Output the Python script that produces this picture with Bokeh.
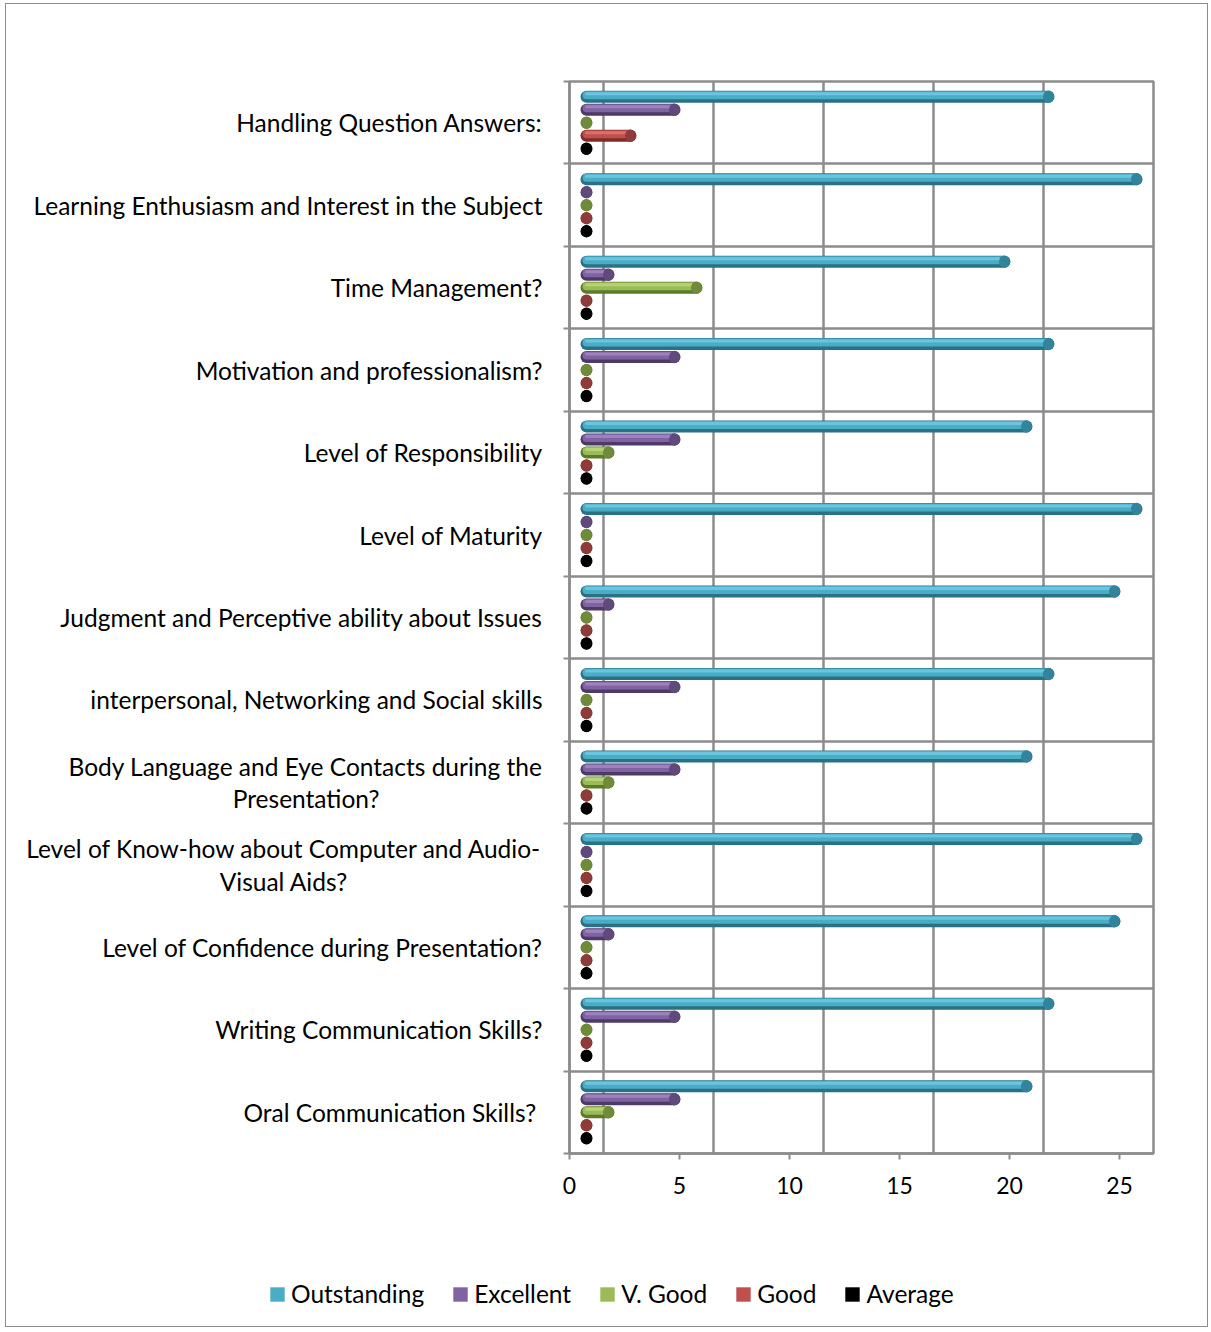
from bokeh.plotting import figure
from bokeh.layouts import column
from bokeh.models import Range1d, FixedTicker, Legend, LegendItem, ColumnDataSource
from bokeh.embed import file_html
from bokeh.resources import INLINE

NB = "\u00a0"
categories = [
    "Handling Question Answers:",
    "Learning Enthusiasm and Interest in the Subject",
    "Time Management?",
    "Motivation and professionalism?",
    "Level of Responsibility",
    "Level of Maturity",
    "Judgment and Perceptive ability about Issues",
    "interpersonal, Networking and Social skills",
    "Body Language and Eye Contacts during the\nPresentation?" + NB * 26,
    "Level of Know-how about Computer and Audio-\nVisual Aids?" + NB * 31,
    "Level of Confidence during Presentation?",
    "Writing Communication Skills?",
    "Oral Communication Skills?" + NB,
]
series_names = ["Outstanding", "Excellent", "V. Good", "Good", "Average"]
outstanding = [21, 25, 19, 21, 20, 25, 24, 21, 20, 25, 24, 21, 20]
excellent = [4, 0, 1, 4, 4, 0, 1, 4, 4, 0, 1, 4, 4]
v_good = [0, 0, 5, 0, 1, 0, 0, 0, 1, 0, 0, 0, 1]
good = [2, 0, 0, 0, 0, 0, 0, 0, 0, 0, 0, 0, 0]
average = [0, 0, 0, 0, 0, 0, 0, 0, 0, 0, 0, 0, 0]
x_ticks = [0, 5, 10, 15, 20, 25]

series_values = [outstanding, excellent, v_good, good, average]
# (dark, main, light, cap)
palette = [
    ("#2b7184", "#4bacc6", "#6ac6de", "#31849b"),
    ("#4e3a66", "#8064a2", "#9d83be", "#5f4a7b"),
    ("#5b7a2a", "#9bbb59", "#b6d474", "#6f8b3a"),
    ("#7e2c2a", "#c0504d", "#d8716e", "#8f3b39"),
    ("#000000", "#000000", "#1a1a1a", "#000000"),
]
legend_colors = ["#4bacc6", "#8064a2", "#9bbb59", "#c0504d", "#000000"]

n = len(categories)
FRAME_W, FRAME_H = 584, 1072
PX_X = 1.0 / 22.0            # data units per pixel (x)
PX_Y = n / FRAME_H           # data units per pixel (y)
DEPTH = 34 * PX_X            # 3-D depth offset of the back wall
HALF = DEPTH / 2             # bars sit at mid-depth
PITCH = 13 * PX_Y
GRID = "#8c8c8c"
FONT = "Lato"
FS = "24.5px"

W = 1201
p = figure(width=W, height=1209, output_backend="svg", toolbar_location=None,
           x_range=Range1d(0, x_ticks[-1] + DEPTH), y_range=Range1d(n, 0),
           min_border_left=563, min_border_right=W - 563 - FRAME_W, min_border_top=77,
           min_border_bottom=1209 - 77 - FRAME_H)
p.background_fill_color = "white"
p.border_fill_color = "white"
p.outline_line_color = GRID
p.outline_line_width = 2.5

# grids on the back wall
p.xgrid.ticker = FixedTicker(ticks=[t + DEPTH for t in x_ticks])
p.xgrid.grid_line_color = GRID
p.xgrid.grid_line_width = 2.5
p.ygrid.ticker = FixedTicker(ticks=list(range(1, n)))
p.ygrid.grid_line_color = GRID
p.ygrid.grid_line_width = 2.5

# x axis
p.xaxis.ticker = FixedTicker(ticks=x_ticks)
p.xaxis.axis_line_color = GRID
p.xaxis.axis_line_width = 2.5
p.xaxis.major_tick_line_color = GRID
p.xaxis.major_tick_line_width = 2
p.xaxis.major_tick_in = 0
p.xaxis.major_tick_out = 6
p.xaxis.minor_tick_line_color = None
p.xaxis.major_label_text_font = FONT
p.xaxis.major_label_text_font_size = "23px"
p.xaxis.major_label_text_color = "black"
p.xaxis.major_label_standoff = 17

# y axis: labels at band centres, tick marks at band boundaries
centers = [i + 0.5 for i in range(n)]
p.yaxis.ticker = FixedTicker(ticks=centers, minor_ticks=list(range(0, n + 1)))
p.yaxis.major_label_overrides = {c: lab for c, lab in zip(centers, categories)}
p.yaxis.axis_line_color = GRID
p.yaxis.axis_line_width = 2.5
p.yaxis.major_tick_line_color = None
p.yaxis.major_tick_in = 0
p.yaxis.major_tick_out = 0
p.yaxis.minor_tick_line_color = GRID
p.yaxis.minor_tick_line_width = 2
p.yaxis.minor_tick_in = 0
p.yaxis.minor_tick_out = 6
p.yaxis.major_label_text_font = FONT
p.yaxis.major_label_text_font_size = FS
p.yaxis.major_label_text_color = "black"
p.yaxis.major_label_text_line_height = 1.12
p.yaxis.major_label_standoff = 21

# cylinders
for k, (vals, (dark, main, light, cap)) in enumerate(zip(series_values, palette)):
    ys = [i + 0.5 + (k - 2) * PITCH for i in range(n)]
    x0 = [HALF] * n
    x1 = [v + HALF for v in vals]
    src = ColumnDataSource(dict(x0=x0, x1=x1, y=ys,
                                y_mid=[y - 1.5 * PX_Y for y in ys],
                                y_hi=[y - 3.0 * PX_Y for y in ys]))
    p.segment("x0", "y", "x1", "y", source=src, line_color=dark, line_width=12, line_cap="round")
    p.segment("x0", "y_mid", "x1", "y_mid", source=src, line_color=main, line_width=8, line_cap="round")
    p.segment("x0", "y_hi", "x1", "y_hi", source=src, line_color=light, line_width=3, line_cap="round")
    p.ellipse(x="x1", y="y", width=11, height=12.5, width_units="screen", height_units="screen",
              source=src, fill_color=cap, line_color=None)

# legend (separate strip below the plot, frame not aligned with the main one)
LH = 113
lf = figure(width=W, height=LH, output_backend="svg", toolbar_location=None,
            x_axis_type=None, y_axis_type=None,
            x_range=Range1d(0, 1), y_range=Range1d(0, 1),
            min_border_left=0, min_border_right=0, min_border_top=0, min_border_bottom=0)
lf.frame_align = False
lf.grid.visible = False
lf.outline_line_color = None
lf.background_fill_color = "white"
lf.border_fill_color = "white"
nan = float("nan")
items = []
for name, col in zip(series_names, legend_colors):
    r = lf.quad(left=[nan], right=[nan], top=[nan], bottom=[nan], fill_color=col, line_color=None)
    items.append(LegendItem(label=name, renderers=[r]))
legend = Legend(items=items, orientation="horizontal", location=(262, 18),
                glyph_width=18, glyph_height=18, label_standoff=5, spacing=27,
                padding=0, margin=0, border_line_color=None, background_fill_alpha=0,
                label_text_font=FONT, label_text_font_size=FS, label_text_color="black")
lf.add_layout(legend, "center")

layout = column(p, lf, spacing=0, margin=(3, 0, 0, 5),
                styles={"border": "1.5px solid #8c8c8c"})

open("out.html", "w").write(file_html(layout, INLINE))
